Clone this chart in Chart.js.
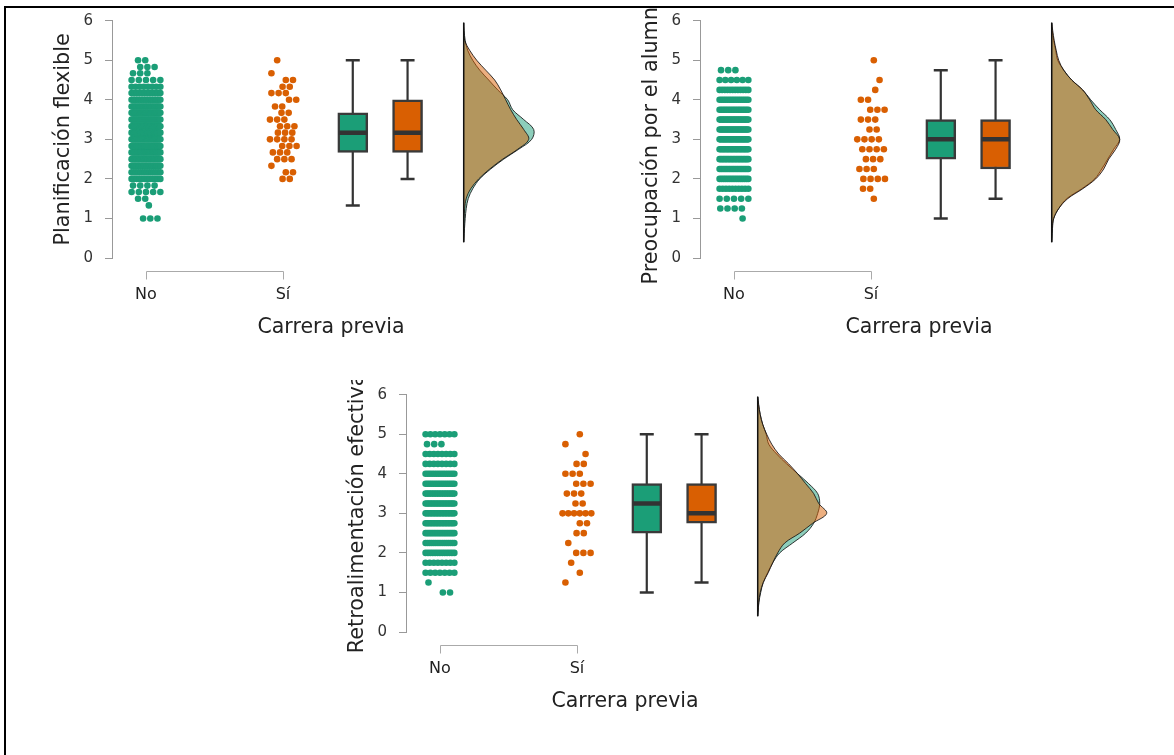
<!DOCTYPE html>
<html>
<head>
<meta charset="utf-8">
<script src="https://cdn.jsdelivr.net/npm/chart.js@4.4.1/dist/chart.umd.min.js"></script>
<style>
  body { margin: 0; background: #fff; }
  canvas { position: absolute; }
  #frame { position: absolute; left: 4px; top: 6px; width: 1180px; height: 760px;
           border-top: 2.5px solid #000; border-left: 2.5px solid #000; z-index: 5; pointer-events: none; }
</style>
</head>
<body>
<div id="frame"></div>
<canvas id="c1" width="514" height="345" style="left:48px;top:6px"></canvas>
<canvas id="c2" width="514" height="345" style="left:636px;top:6px"></canvas>
<canvas id="c3" width="514" height="345" style="left:342px;top:380px"></canvas>
<script>
// categories and titles
var categories = ['No', 'Sí'];
var xTitle = 'Carrera previa';
var yTitles = ['Planificación flexible', 'Preocupación por el alumno', 'Retroalimentación efectiva'];
var yTicks = [0, 1, 2, 3, 4, 5, 6];

// score levels (panel 1 in sixths, panels 2 and 3 in quarters)
var levelsSixths = [1, 1.17, 1.33, 1.5, 1.67, 1.83, 2, 2.17, 2.33, 2.5, 2.67, 2.83, 3, 3.17, 3.33, 3.5, 3.67, 3.83, 4, 4.17, 4.33, 4.5, 4.67, 4.83, 5];
var levelsQuarters = [1, 1.25, 1.5, 1.75, 2, 2.25, 2.5, 2.75, 3, 3.25, 3.5, 3.75, 4, 4.25, 4.5, 4.75, 5];

// number of students at each level
var planNo  = [3, 0, 1, 2, 5, 4, 12, 14, 18, 22, 26, 28, 32, 34, 34, 30, 27, 22, 18, 12, 8, 5, 3, 3, 2];
var planSi  = [0, 0, 0, 0, 0, 0, 2, 2, 1, 3, 3, 3, 4, 3, 3, 3, 2, 2, 2, 3, 2, 2, 1, 0, 1];
var preoNo  = [1, 4, 5, 10, 16, 19, 21, 23, 25, 24, 22, 18, 16, 12, 6, 3, 0];
var preoSi  = [0, 0, 1, 2, 4, 3, 3, 4, 4, 2, 3, 3, 2, 1, 1, 0, 1];
var retroNo = [2, 1, 7, 8, 13, 16, 18, 20, 20, 20, 18, 16, 14, 8, 8, 3, 7];
var retroSi = [0, 1, 1, 1, 3, 1, 2, 2, 6, 2, 3, 3, 3, 2, 1, 1, 1];

// box stats: min, q1, median, q3, max
var planBoxNo  = [1.33, 2.67, 3.17, 3.67, 5];
var planBoxSi  = [2, 2.67, 3.17, 4, 5];
var preoBoxNo  = [1, 2.5, 3, 3.5, 4.75];
var preoBoxSi  = [1.5, 2.25, 3, 3.5, 5];
var retroBoxNo = [1, 2.5, 3.25, 3.75, 5];
var retroBoxSi = [1.25, 2.75, 3, 3.75, 5];

// density estimates read along the value axis
var densGrid = [0.4, 0.5, 0.75, 1, 1.25, 1.5, 1.75, 2, 2.25, 2.5, 2.75, 3, 3.25, 3.5, 3.75, 4, 4.25, 4.5, 4.75, 5, 5.25, 5.5, 5.75, 5.95];
var planDensNo  = [0, .003, .008, .015, .025, .045, .09, .16, .27, .40, .55, .68, .70, .60, .49, .44, .34, .25, .16, .09, .04, .015, .004, 0];
var planDensSi  = [0, 0, 0, .003, .01, .025, .07, .15, .26, .39, .54, .65, .60, .53, .47, .42, .37, .31, .22, .13, .06, .01, 0, 0];
var preoDensNo  = [0, .003, .008, .02, .07, .15, .30, .43, .50, .56, .62, .68, .64, .58, .48, .39, .31, .20, .12, .06, .04, .02, .005, 0];
var preoDensSi  = [0, .001, .005, .02, .07, .16, .31, .44, .52, .57, .64, .68, .61, .54, .44, .38, .31, .20, .12, .07, .045, .025, .01, 0];
var retroDensNo = [0, .003, .012, .03, .055, .10, .15, .22, .35, .48, .56, .60, .62, .60, .51, .40, .29, .19, .11, .085, .05, .025, .008, 0];
var retroDensSi = [0, .003, .01, .025, .055, .105, .15, .20, .27, .42, .55, .69, .61, .56, .48, .40, .31, .21, .14, .09, .05, .025, .01, 0];

// layout on the x scale
var catPos = [1, 2];
var boxPos = [2.51, 2.91];
var densBase = 3.32;
var densScale = 0.73;
var jitterW = 0.21;
var green = '#1b9e77';
var orange = '#d95f02';

Chart.defaults.font.family = 'DejaVu Sans';
Chart.defaults.color = '#333';

function swarm(levels, counts, center) {
    var pts = [];
    var shifts = [0.6, -0.8, 0.2, -0.4, 0.9, -0.6, 0.3];
    for (var i = 0; i < levels.length; i++) {
        var n = counts[i];
        if (!n) continue;
        var spread = jitterW * Math.min(1, (n - 1) / 4);
        var shift = shifts[i % shifts.length] * (jitterW - spread) / 2;
        for (var k = 0; k < n; k++) {
            var off = n === 1 ? 0 : -spread / 2 + spread * k / (n - 1);
            pts.push({x: center + off + shift, y: levels[i]});
        }
    }
    return pts;
}

function densityShape(dens) {
    var pts = [];
    for (var i = 0; i < densGrid.length; i++) {
        pts.push({x: densBase + dens[i] * densScale, y: densGrid[i]});
    }
    return pts;
}

var bracket = {
    id: 'bracket',
    afterDraw: function (chart) {
        var ctx = chart.ctx;
        var xs = chart.scales.x;
        var b = Math.round(chart.chartArea.bottom) + 0.5;
        var x1 = Math.round(xs.getPixelForValue(catPos[0])) + 0.5;
        var x2 = Math.round(xs.getPixelForValue(catPos[1])) + 0.5;
        ctx.save();
        ctx.strokeStyle = '#aaa';
        ctx.lineWidth = 1;
        ctx.beginPath();
        ctx.moveTo(x1, b + 21);
        ctx.lineTo(x1, b + 13);
        ctx.lineTo(x2, b + 13);
        ctx.lineTo(x2, b + 21);
        ctx.stroke();
        ctx.restore();
    }
};

function makePanel(id, yTitle, levels, cNo, cSi, bNo, bSi, dNo, dSi) {
    var datasets = [
        {type: 'line', data: densityShape(dNo), fill: 'shape', backgroundColor: 'rgba(27,158,119,0.5)',
         borderColor: 'rgba(20,20,20,0.85)', borderWidth: 1, pointRadius: 0, tension: 0.35, order: 10},
        {type: 'line', data: densityShape(dSi), fill: 'shape', backgroundColor: 'rgba(217,95,2,0.5)',
         borderColor: 'rgba(20,20,20,0.85)', borderWidth: 1, pointRadius: 0, tension: 0.35, order: 9},
        {type: 'line', data: [{x: densBase, y: densGrid[0]}, {x: densBase, y: densGrid[densGrid.length - 1]}],
         borderColor: '#111', borderWidth: 1.5, pointRadius: 0, order: 8}
    ];
    [bNo, bSi].forEach(function (b, j) {
        datasets.push({type: 'line', data: [{x: boxPos[j], y: b[0]}, {x: boxPos[j], y: b[4]}],
            borderColor: '#333', borderWidth: 2.2, pointStyle: 'line', pointRadius: 7,
            pointBorderWidth: 2.5, pointBorderColor: '#333', order: 7});
    });
    datasets.push({type: 'bar', data: [{x: boxPos[0], y: [bNo[1], bNo[3]]}, {x: boxPos[1], y: [bSi[1], bSi[3]]}],
        backgroundColor: [green, orange], borderColor: '#3a3a3a', borderWidth: 2.5, borderSkipped: false,
        barThickness: 30, grouped: false, order: 6});
    datasets.push({type: 'scatter', data: [{x: boxPos[0], y: bNo[2]}, {x: boxPos[1], y: bSi[2]}],
        pointStyle: 'line', pointRadius: 14, pointBorderColor: '#333', pointBorderWidth: 4.5, order: 5});
    datasets.push({type: 'scatter', data: swarm(levels, cNo, catPos[0]), pointRadius: 3.3,
        pointBackgroundColor: green, pointBorderWidth: 0, order: 1});
    datasets.push({type: 'scatter', data: swarm(levels, cSi, catPos[1]), pointRadius: 3.3,
        pointBackgroundColor: orange, pointBorderWidth: 0, order: 2});

    return new Chart(document.getElementById(id), {
        type: 'scatter',
        data: {datasets: datasets},
        options: {
            responsive: false,
            animation: false,
            events: [],
            layout: {autoPadding: false, padding: {top: 14.7, right: 12, bottom: 7, left: 0}},
            plugins: {legend: {display: false}, tooltip: {enabled: false}},
            scales: {
                x: {
                    type: 'linear', min: 0.752, max: 3.95, offset: false,
                    afterBuildTicks: function (scale) {
                        scale.ticks = catPos.map(function (v) { return {value: v}; });
                    },
                    afterFit: function (scale) {
                        scale.height = 86;
                        scale.paddingLeft = 0;
                        scale.paddingRight = 0;
                    },
                    ticks: {
                        autoSkip: false, maxRotation: 0, padding: 27,
                        font: {size: 16}, color: '#222',
                        callback: function (v) { return categories[catPos.indexOf(v)]; }
                    },
                    grid: {display: false, drawTicks: false},
                    border: {display: false},
                    title: {display: true, text: xTitle, font: {size: 20.5}, color: '#222'}
                },
                y: {
                    type: 'linear', min: yTicks[0], max: yTicks[yTicks.length - 1],
                    afterFit: function (scale) {
                        scale.width = 64;
                        scale.paddingTop = 0;
                        scale.paddingBottom = 0;
                    },
                    ticks: {stepSize: 1, padding: 12, font: {size: 15}, color: '#333'},
                    grid: {drawOnChartArea: false, drawTicks: true, tickLength: 7, color: '#999'},
                    border: {display: true, color: '#999', width: 1},
                    title: {display: true, text: yTitle, font: {size: 20.8}, color: '#222', padding: {top: 3, bottom: 4}}
                }
            }
        },
        plugins: [bracket]
    });
}

makePanel('c1', yTitles[0], levelsSixths, planNo, planSi, planBoxNo, planBoxSi, planDensNo, planDensSi);
makePanel('c2', yTitles[1], levelsQuarters, preoNo, preoSi, preoBoxNo, preoBoxSi, preoDensNo, preoDensSi);
makePanel('c3', yTitles[2], levelsQuarters, retroNo, retroSi, retroBoxNo, retroBoxSi, retroDensNo, retroDensSi);
</script>
</body>
</html>
